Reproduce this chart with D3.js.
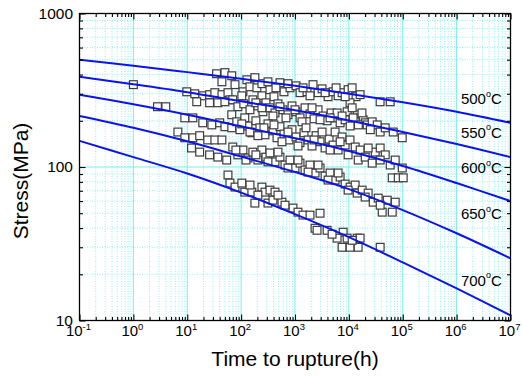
<!DOCTYPE html>
<html>
<head>
<meta charset="utf-8">
<script src="https://cdn.jsdelivr.net/npm/d3@7"></script>
<style>
  body { margin: 0; background: #fff; }
  svg { font-family: Arial, "Liberation Sans", sans-serif; }
</style>
</head>
<body>
<div id="app"></div>
<script>
// curves (stress in MPa at each decade of hours)
const curveHours = [1e-1, 1, 10, 100, 1e3, 1e4, 1e5, 1e6, 1e7];
const temps = ["500", "550", "600", "650", "700"];
const curve500 = [500, 457, 415, 376, 338, 300, 264, 229, 194];
const curve550 = [387, 346, 307, 268, 234, 201, 169, 141, 116];
const curve600 = [296, 256, 219, 184, 154, 127, 101.5, 78.6, 60];
const curve650 = [215, 180, 147, 117, 92.7, 71.8, 52.4, 37, 25.4];
const curve700 = [148, 116, 90.7, 68.1, 49.3, 34.9, 23.9, 16.2, 10.8];
const labelStress = [258, 155, 91.4, 45.7, 16.9];
const labelHours = 1.2e6;

// test points [hours, MPa]
const ptsSingle = [[1, 344], [2.8, 247], [4, 247]];
const pts500 = [[35,405],[50,412],[44,359],[67,393],[77,344],[108,309],[128,370],[146,333],[196,328],[243,349],[243,291],[343,319],[407,287],[526,354],[624,309],[807,328],[1045,338],[1240,305],[1670,309],[2160,344],[2680,305],[3180,323],[4110,287],[5090,309],[6310,291],[7480,305],[9680,319],[11500,328],[13600,287],[10500,262],[38000,266],[58500,266],
  [180,382],[315,359],[443,328],[741,349],[1410,328],[1900,291],[3615,305],[8513,287],[5790,328],[16190,296]];
const pts550 = [[9.8,309],[13.8,300],[19.4,291],[26,296],[32.5,305],[44,296],[57,305],[62,274],[15,266],[26,262],[37,262],[50,266],[70,274],[87,247],[112,258],[146,236],[165,274],[205,250],[254,229],[289,262],[343,243],[425,225],[483,258],[598,236],[741,219],[880,250],[1045,229],[1240,209],[1535,243],[1900,222],[2256,206],[2680,236],[3318,215],[3940,200],[4676,225],[5550,209],[6875,194],[6046,225],[9277,229],[14240,219],[16190,209],[18410,203],[20060,194],[21860,188],[27080,197],[33550,188],[38100,169],[47250,180],[66580,169],[97900,155],[13070,197],[8513,203],[12000,209],[15000,188],[17500,225],
  [103,291],[188,262],[243,243],[390,215],[526,247],[680,209],[1000,236],[1350,197],[2070,243],[2920,203],[4480,209],[7480,215],[10550,185],[25000,175],[11500,243]];
const pts600 = [[9,209],[12.7,209],[19.4,194],[28.6,188],[40,194],[50,183],[67,180],[67,219],[83,197],[95,175],[117,209],[134,185],[158,167],[188,200],[223,180],[277,162],[315,191],[390,172],[463,155],[526,183],[624,164],[773,150],[880,175],[1045,157],[1240,144],[1470,167],[1750,150],[2070,137],[2460,160],[2920,146],[3620,133],[4290,152],[5090,139],[6310,129],[5550,169],[7480,157],[8510,139],[10500,150],[13100,135],[16200,129],[14900,111],[20100,116],[27100,106],[30800,125],[38100,133],[47300,120],[58500,103],[72500,111],[97900,98.5],[63800,85],[82500,85],[102000,85],
  [103,191],[146,169],[205,160],[265,180],[407,188],[573,146],[741,169],[1137,137],[1600,180],[2256,150],[3180,169],[4480,129],[6875,146],[9680,120],[22800,133],[38100,111]];
const pts650 = [[6.7,169],[9,155],[12.7,155],[17,160],[24,150],[32.5,150],[44,150],[12,133],[17,125],[26,120],[37,116],[54,111],[70,135],[87,120],[108,129],[134,114.5],[165,125],[205,111],[243,129],[289,116],[343,123.5],[425,108],[526,116],[652,103],[807,111],[1000,98.5],[1240,106],[1535,95.6],[1900,103],[2356,91.4],[2920,98.5],[3615,87.3],[4480,91.4],[5550,82.2],[6875,86],[8513,77.4],[10550,74],[13070,76.3],[14240,67.6],[17640,70.7],[22810,67.6],[28270,59],[35020,62.7],[51470,60.8],[72530,59],[41540,50.8],[63800,50.8],
  [80,129],[123,111],[188,120],[315,108],[483,125],[741,98.5],[1137,111],[1750,92.7],[2680,103],[4110,82.2],[6310,91.4],[9680,70.7],[20060,63.7],[38100,56.4]];
const pts700 = [[57,88.7],[62,78.6],[77,74],[103,78.6],[117,68.6],[158,68.6],[243,74],[277,68.6],[180,58.2],[315,58.2],[343,70.7],[425,68.6],[390,60.8],[573,59],[483,65.6],[918,54],[1137,50.8],[1409,48.6],[2919,50],[2356,39.9],[2566,38.7],[3940,38.7],[7816,37.6],[6046,34.4],[9277,34.4],[14240,34.4],[16190,34.4],[7480,30],[10550,30],[14860,30],[38100,30],
  [146,76.3],[205,65.6],[652,56.4],[1900,48.6],[4880,36.5],[11500,33.3]];

const xExps = [-1, 0, 1, 2, 3, 4, 5, 6, 7];
const yTicks = [10, 100, 1000];

const curves = [curve500, curve550, curve600, curve650, curve700];
const points = [].concat(ptsSingle, pts500, pts550, pts600, pts650, pts700);

const W = 522, H = 378;
const mLeft = 79.5, mRight = 510.5, mTop = 13.5, mBottom = 320.5;

const svg = d3.select("#app").append("svg").attr("width", W).attr("height", H);

const x = d3.scaleLog().domain([1e-1, 1e7]).range([mLeft, mRight]);
const y = d3.scaleLog().domain([10, 1000]).range([mBottom, mTop]);

// minor / major tick values
const xMinor = [];
for (let e = -1; e < 7; e++) for (let m = 2; m <= 9; m++) xMinor.push(m * Math.pow(10, e));
const xMajor = xExps.map((e) => Math.pow(10, e));
const yMinor = [];
for (let e = 1; e < 3; e++) for (let m = 2; m <= 9; m++) yMinor.push(m * Math.pow(10, e));

// grid
const grid = svg.append("g");
grid.selectAll(".vmin").data(xMinor).enter().append("line")
  .attr("x1", (d) => x(d)).attr("x2", (d) => x(d))
  .attr("y1", mTop).attr("y2", mBottom)
  .attr("stroke", "#8ef2f2").attr("stroke-dasharray", "1,1.5");
grid.selectAll(".hmin").data(yMinor).enter().append("line")
  .attr("y1", (d) => y(d)).attr("y2", (d) => y(d))
  .attr("x1", mLeft).attr("x2", mRight)
  .attr("stroke", "#8ef2f2").attr("stroke-dasharray", "1,1.5");
grid.selectAll(".vmaj").data(xMajor.slice(1, -1)).enter().append("line")
  .attr("x1", (d) => x(d)).attr("x2", (d) => x(d))
  .attr("y1", mTop).attr("y2", mBottom)
  .attr("stroke", "#7eeaee");
grid.selectAll(".hmaj").data([100]).enter().append("line")
  .attr("y1", (d) => y(d)).attr("y2", (d) => y(d))
  .attr("x1", mLeft).attr("x2", mRight)
  .attr("stroke", "#7eeaee");

// squares
svg.append("g").selectAll("rect").data(points).enter().append("rect")
  .attr("x", (d) => x(d[0]) - 3.9)
  .attr("y", (d) => y(d[1]) - 3.9)
  .attr("width", 7.8).attr("height", 7.8)
  .attr("fill", "#fff").attr("stroke", "#3c3c3c").attr("stroke-width", 1.2);

// curves
svg.append("clipPath").attr("id", "clip").append("rect")
  .attr("x", mLeft).attr("y", mTop).attr("width", mRight - mLeft).attr("height", mBottom - mTop);
const line = d3.line()
  .x((d, i) => x(curveHours[i]))
  .y((d) => y(d))
  .curve(d3.curveCatmullRom);
svg.append("g").attr("clip-path", "url(#clip)")
  .selectAll("path").data(curves).enter().append("path")
  .attr("d", line).attr("fill", "none")
  .attr("stroke", "#0a14f0").attr("stroke-width", 2);

// temperature labels
const tl = svg.append("g").selectAll("text").data(temps).enter().append("text")
  .attr("x", x(labelHours))
  .attr("y", (d, i) => y(labelStress[i]))
  .attr("font-size", 15).attr("fill", "#000");
tl.append("tspan").text((d) => d);
tl.append("tspan").attr("font-size", 9).attr("dy", -7.3).text("o");
tl.append("tspan").attr("dy", 7.3).text("C");

// axes with inward ticks
const axisStyle = (g) => {
  g.select(".domain").remove();
  g.selectAll(".tick line").attr("stroke", "#000").attr("stroke-width", 1.1);
};
svg.append("g").attr("transform", `translate(0,${mBottom})`)
  .call(d3.axisBottom(x).tickValues(xMajor).tickSize(-6).tickFormat("")).call(axisStyle);
svg.append("g").attr("transform", `translate(0,${mBottom})`)
  .call(d3.axisBottom(x).tickValues(xMinor).tickSize(-3.5).tickFormat("")).call(axisStyle);
svg.append("g").attr("transform", `translate(0,${mTop})`)
  .call(d3.axisTop(x).tickValues(xMajor).tickSize(-6).tickFormat("")).call(axisStyle);
svg.append("g").attr("transform", `translate(0,${mTop})`)
  .call(d3.axisTop(x).tickValues(xMinor).tickSize(-3.5).tickFormat("")).call(axisStyle);
svg.append("g").attr("transform", `translate(${mLeft},0)`)
  .call(d3.axisLeft(y).tickValues(yTicks).tickSize(-6).tickFormat("")).call(axisStyle);
svg.append("g").attr("transform", `translate(${mLeft},0)`)
  .call(d3.axisLeft(y).tickValues(yMinor).tickSize(-3.5).tickFormat("")).call(axisStyle);
svg.append("g").attr("transform", `translate(${mRight},0)`)
  .call(d3.axisRight(y).tickValues(yTicks).tickSize(-6).tickFormat("")).call(axisStyle);
svg.append("g").attr("transform", `translate(${mRight},0)`)
  .call(d3.axisRight(y).tickValues(yMinor).tickSize(-3.5).tickFormat("")).call(axisStyle);

// frame
svg.append("rect")
  .attr("x", mLeft).attr("y", mTop).attr("width", mRight - mLeft).attr("height", mBottom - mTop)
  .attr("fill", "none").attr("stroke", "#000").attr("stroke-width", 1.3);

// tick labels
svg.append("g").selectAll("text").data(yTicks).enter().append("text")
  .attr("x", 73).attr("y", (d) => y(d) + 5)
  .attr("text-anchor", "end").attr("font-size", 15.5)
  .text((d) => d);

const xl = svg.append("g").selectAll("text").data(xExps).enter().append("text")
  .attr("x", (d) => x(Math.pow(10, d)) - 1)
  .attr("y", 335.5)
  .attr("text-anchor", "middle").attr("font-size", 15);
xl.append("tspan").text("10");
xl.append("tspan").attr("font-size", 9.5).attr("dy", -5.5).text((d) => d);

// axis titles
svg.append("text")
  .attr("x", (mLeft + mRight) / 2).attr("y", 366)
  .attr("text-anchor", "middle").attr("font-size", 21)
  .text("Time to rupture(h)");
svg.append("text")
  .attr("transform", "translate(28,181) rotate(-90)")
  .attr("text-anchor", "middle").attr("font-size", 21)
  .text("Stress(MPa)");
</script>
</body>
</html>
